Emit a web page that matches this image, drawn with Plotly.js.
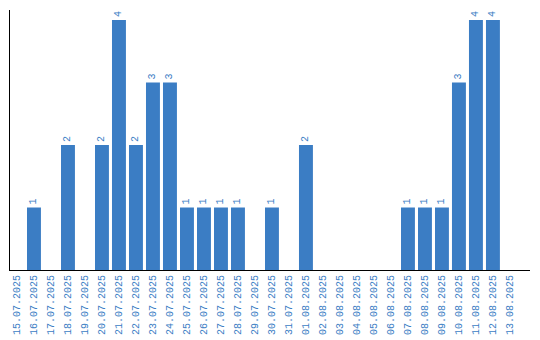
<!DOCTYPE html>
<html><head><meta charset="utf-8">
<script src="https://cdn.plot.ly/plotly-3.0.1.min.js"></script>
<style>html,body{margin:0;padding:0;background:#fff}#c{width:540px;height:340px}</style>
</head><body><div id="c"></div>
<script>
const dates = ["15.07.2025","16.07.2025","17.07.2025","18.07.2025","19.07.2025","20.07.2025","21.07.2025","22.07.2025","23.07.2025","24.07.2025","25.07.2025","26.07.2025","27.07.2025","28.07.2025","29.07.2025","30.07.2025","31.07.2025","01.08.2025","02.08.2025","03.08.2025","04.08.2025","05.08.2025","06.08.2025","07.08.2025","08.08.2025","09.08.2025","10.08.2025","11.08.2025","12.08.2025","13.08.2025"];
const counts = [0,1,0,2,0,2,4,2,3,3,1,1,1,1,0,1,0,2,0,0,0,0,0,1,1,1,3,4,4,0];
const labels = counts.map(v => v > 0 ? String(v) : "");
const blue = "#3b7dc4";
Plotly.newPlot("c", [{
  type: "bar", x: dates, y: counts, text: labels,
  textposition: "outside", textangle: -90, cliponaxis: false,
  textfont: {family: "Liberation Mono", size: 10, color: blue},
  marker: {color: blue}, hoverinfo: "none"
}], {
  width: 540, height: 340,
  margin: {l: 10, r: 10, t: 10, b: 70},
  paper_bgcolor: "#fff", plot_bgcolor: "#fff",
  bargap: 0.18, showlegend: false,
  xaxis: {type: "category", range: [-0.41, 30.18], tickangle: -90,
    tickfont: {family: "Liberation Mono", size: 10, color: blue},
    showline: true, linecolor: "#000", linewidth: 1, showgrid: false, ticks: "", zeroline: false, fixedrange: true},
  yaxis: {range: [0, 4.16], showline: true, linecolor: "#000", linewidth: 1, showgrid: false,
    showticklabels: false, ticks: "", zeroline: false, fixedrange: true}
}, {staticPlot: true});
</script></body></html>
